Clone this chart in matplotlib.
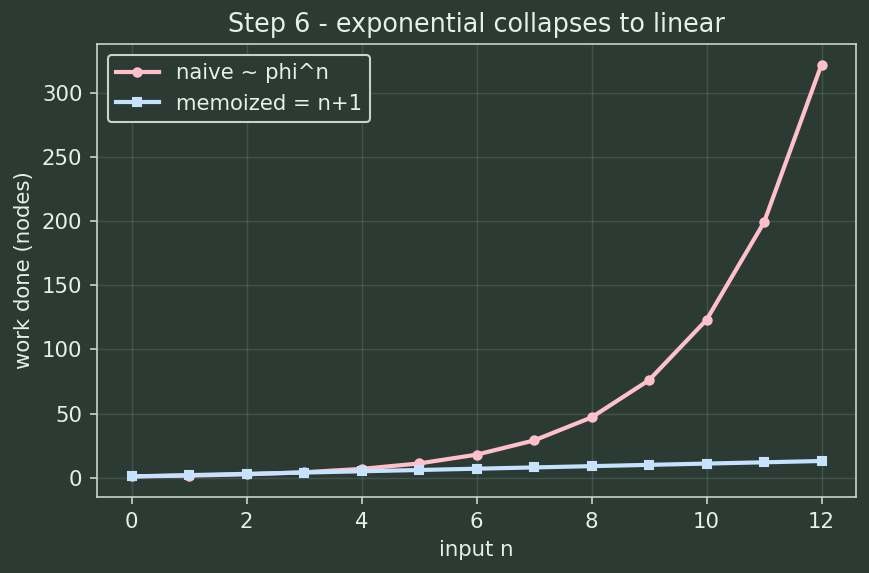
import matplotlib
matplotlib.use("Agg")
import matplotlib.pyplot as plt

n = list(range(13))
naive = [1, 1.618, 2.618, 4.236, 6.854, 11.09, 17.94, 29.03, 46.98, 76.01, 122.99, 199.0, 321.99]
memo = [1, 2, 3, 4, 5, 6, 7, 8, 9, 10, 11, 12, 13]

bg = "#2b3b34"
fg = "#e6efe8"
spine = "#c5d6c8"

fig = plt.figure(figsize=(869/150, 573/150), dpi=150, facecolor=bg)
ax = fig.add_axes([97/869, 1-497/573, (856-97)/869, (497-44)/573], facecolor=bg)

ax.plot(n, naive, color="#ffc0cb", marker="o", markersize=4, linewidth=2, label="naive ~ phi^n")
ax.plot(n, memo, color="#c6e2ff", marker="s", markersize=4, linewidth=2, label="memoized = n+1")

ax.grid(True, color="#8fa898", alpha=0.22, linewidth=0.7)
for s in ax.spines.values():
    s.set_color(spine)
ax.tick_params(colors=spine, labelcolor=fg, labelsize=10.2)
ax.set_xlabel("input n", color=fg, fontsize=10.2)
ax.set_ylabel("work done (nodes)", color=fg, fontsize=10.2)
ax.set_title("Step 6 - exponential collapses to linear", color=fg, fontsize=12.25)
leg = ax.legend(loc="upper left", facecolor=bg, edgecolor=spine, fontsize=10.2, framealpha=1)
for t in leg.get_texts():
    t.set_color(fg)

fig.savefig("out.png", dpi=150, facecolor=bg)
